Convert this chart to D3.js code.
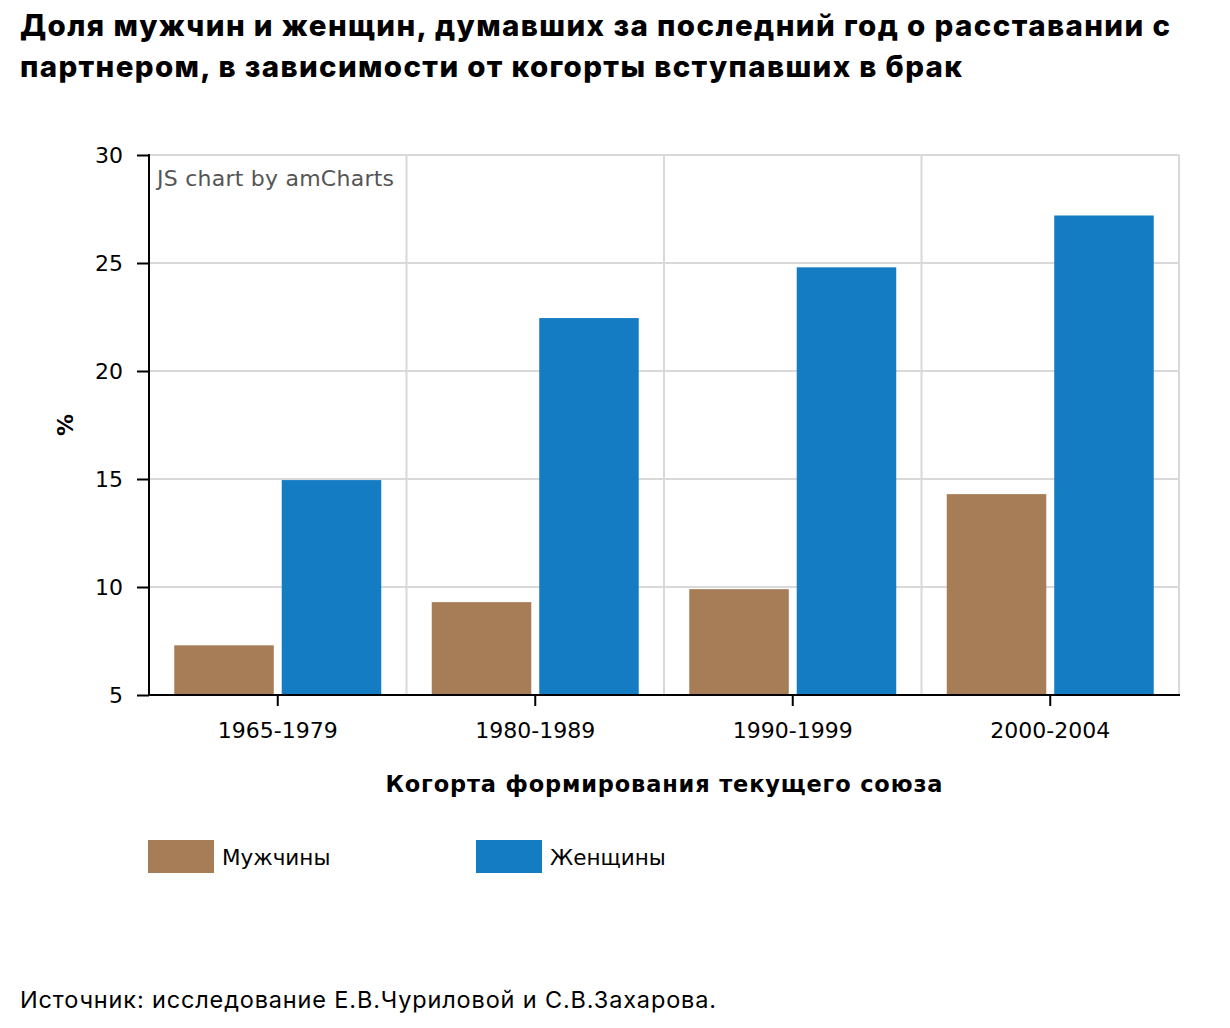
<!DOCTYPE html>
<html><head><meta charset="utf-8">
<script src="https://cdn.jsdelivr.net/npm/d3@7"></script>
<style>body{margin:0;background:#fff}svg{display:block}</style>
</head><body>
<script>
const categories = ["1965-1979","1980-1989","1990-1999","2000-2004"];
const menValues = [7.3, 9.3, 9.9, 14.3];
const womenValues = [14.95, 22.45, 24.8, 27.2];
const seriesNames = ["Мужчины","Женщины"];
const yTicks = [5,10,15,20,25,30];
const titleLines = ["Доля мужчин и женщин, думавших за последний год о расставании с","партнером, в зависимости от когорты вступавших в брак"];
const xTitle = "Когорта формирования текущего союза";
const yTitle = "%";
const sourceText = "Источник: исследование Е.В.Чуриловой и С.В.Захарова.";

const colors = ["#a67d57","#147cc2"];
const W=1230,H=1028;
const m={left:149,right:1179,top:155,bottom:695};
const svg=d3.select("body").append("svg").attr("width",W).attr("height",H);
const font="'DejaVu Sans', Verdana, sans-serif";

const x=d3.scaleBand().domain(categories).range([m.left,m.right]).paddingInner(0).paddingOuter(0);
const xs=d3.scaleBand().domain([0,1]).range([0,x.bandwidth()]).paddingInner(0.074).paddingOuter(0.235);
const y=d3.scaleLinear().domain([5,30]).range([m.bottom,m.top]);

// grid
const g=svg.append("g");
g.selectAll("line.h").data(yTicks).join("line").attr("x1",m.left).attr("x2",m.right)
 .attr("y1",d=>y(d)).attr("y2",d=>y(d)).attr("stroke","#d9d9d9").attr("stroke-width",2);
const vb=categories.slice(1).map(c=>x(c)).concat([m.right]);
g.selectAll("line.v").data(vb).join("line").attr("x1",d=>d).attr("x2",d=>d)
 .attr("y1",m.top).attr("y2",m.bottom).attr("stroke","#d9d9d9").attr("stroke-width",2);

// watermark
svg.append("text").attr("x",157).attr("y",186).attr("font-family",font).attr("font-size",22)
 .attr("fill","#555").attr("textLength",237).attr("lengthAdjust","spacing").text("JS chart by amCharts");

// bars
const data=categories.map((c,i)=>({c,v:[menValues[i],womenValues[i]]}));
const cg=svg.selectAll("g.cat").data(data).join("g").attr("transform",d=>`translate(${x(d.c)},0)`);
cg.selectAll("rect").data(d=>d.v.map((v,k)=>({v,k}))).join("rect")
 .attr("x",d=>xs(d.k)).attr("width",xs.bandwidth())
 .attr("y",d=>y(d.v)).attr("height",d=>y(5)-y(d.v)).attr("fill",d=>colors[d.k]);

// axes
const ya=svg.append("g").attr("transform",`translate(${m.left},0)`)
 .call(d3.axisLeft(y).tickValues(yTicks).tickSize(12).tickPadding(14));
ya.select(".domain").attr("stroke","#000").attr("stroke-width",2).attr("d",`M0,${m.top-1}V${m.bottom+1}`);
ya.selectAll(".tick line").attr("stroke","#000").attr("stroke-width",2);
ya.selectAll(".tick text").attr("font-family",font).attr("font-size",22).attr("fill","#000");

const xa=svg.append("g").attr("transform",`translate(0,${m.bottom})`)
 .call(d3.axisBottom(x).tickSize(11).tickPadding(16));
xa.select(".domain").attr("stroke","#000").attr("stroke-width",2).attr("d",`M${m.left-1},0H${m.right+1}`);
xa.selectAll(".tick line").attr("stroke","#000").attr("stroke-width",2);
xa.selectAll(".tick text").attr("font-family",font).attr("font-size",22).attr("fill","#000");

// axis titles
svg.append("text").attr("x",(m.left+m.right)/2).attr("y",792).attr("text-anchor","middle")
 .attr("font-family",font).attr("font-weight","bold").attr("font-size",22.5)
 .attr("textLength",557).attr("lengthAdjust","spacing").text(xTitle);
svg.append("text").attr("transform","translate(73,425) rotate(-90)").attr("text-anchor","middle")
 .attr("font-family",font).attr("font-weight","bold").attr("font-size",22).text(yTitle);

// legend
const lx=[148,476];
const lg=svg.selectAll("g.leg").data(seriesNames).join("g").attr("transform",(d,i)=>`translate(${lx[i]},840)`);
lg.append("rect").attr("width",66).attr("height",33).attr("fill",(d,i)=>colors[i]);
lg.append("text").attr("x",74).attr("y",25).attr("font-family",font).attr("font-size",21.5).text(d=>d);

// title
const tl=[1150,942];
svg.selectAll("text.title").data(titleLines).join("text").attr("class","title")
 .attr("x",20).attr("y",(d,i)=>36+i*41).attr("font-family","Inter, 'Open Sans', sans-serif")
 .attr("font-weight",800).attr("font-size",29.5).attr("textLength",(d,i)=>tl[i]).attr("lengthAdjust","spacing").text(d=>d);

svg.append("text").attr("x",20).attr("y",1008).attr("font-family","Inter, 'Open Sans', sans-serif")
 .attr("font-weight",400).attr("font-size",23.5).attr("textLength",696).attr("lengthAdjust","spacing").text(sourceText);
</script>
</body></html>
